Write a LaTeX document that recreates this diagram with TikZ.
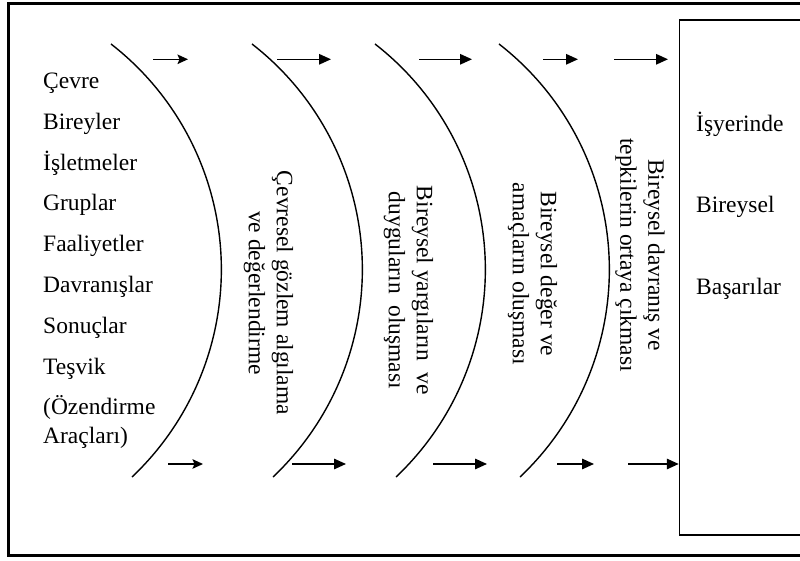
\documentclass[tikz,border=0pt]{standalone}
\usepackage{fontspec}
\setmainfont{Liberation Serif}
\usetikzlibrary{arrows.meta}
\tikzset{
  txt/.style={inner sep=0pt, font=\fontsize{23.5pt}{28pt}\selectfont},
  rot/.style={txt, rotate=-90, align=center, anchor=center},
  curve/.style={line width=1.4pt},
  arr/.style={line width=1.5pt, -{Triangle[length=12pt,width=10.5pt]}},
  arrsmall/.style={line width=1.5pt, -{Stealth[length=10.5pt,width=9.5pt,inset=2pt]}},
}
\begin{document}
\begin{tikzpicture}[x=1pt,y=1pt]
\useasboundingbox (0,0) rectangle (800,561);
\clip (0,0) rectangle (800,561);
% outer frame
\draw[line width=3pt] (8.5,557) rectangle (830,5);
% result box
\node[draw, line width=1.5pt, minimum width=150pt, minimum height=515pt, inner sep=0pt] (box) at (754.5,283.5) {};
% arcs
\foreach \dx in {0,141,264,388}{
  \draw[curve] (111+\dx,517) arc[start angle=52.15, end angle=-46.6, radius=285.6];
}
% left list
\node[txt, anchor=base west] (l1) at (43,472.5) {Çevre};
\node[txt, anchor=base west] (l2) at (43,431.7) {Bireyler};
\node[txt, anchor=base west] (l3) at (43,390.9) {İşletmeler};
\node[txt, anchor=base west] (l4) at (43,350.1) {Gruplar};
\node[txt, anchor=base west] (l5) at (43,309.3) {Faaliyetler};
\node[txt, anchor=base west] (l6) at (43,268.5) {Davranışlar};
\node[txt, anchor=base west] (l7) at (43,227.7) {Sonuçlar};
\node[txt, anchor=base west] (l8) at (43,186.9) {Teşvik};
\node[txt, anchor=base west] (l9) at (43,146.5) {(Özendirme};
\node[txt, anchor=base west] (l10) at (43,117.5) {Araçları)};
% rotated stage labels
\node[rot] (s1) at (268.5,268) {Çevresel gözlem algılama\\ve değerlendirme};
\node[rot] (s2) at (408.5,270.5) {Bireysel yargıların~ ve\\duyguların~ oluşması};
\node[rot] (s3) at (532.5,287) {Bireysel değer ve\\amaçların oluşması};
\node[rot] (s4) at (640,306) {Bireysel davranış ve\\tepkilerin ortaya çıkması};
% box texts
\node[txt, anchor=base west] (r1) at (696,429) {İşyerinde};
\node[txt, anchor=base west] (r2) at (696,348) {Bireysel};
\node[txt, anchor=base west] (r3) at (696,266) {Başarılar};
% arrow coordinates
\coordinate (t1s) at (153,501.7); \coordinate (t1e) at (188,501.7);
\coordinate (t2s) at (277,501.7); \coordinate (t2e) at (331,501.7);
\coordinate (t3s) at (419,501.7); \coordinate (t3e) at (472,501.7);
\coordinate (t4s) at (543,501.7); \coordinate (t4e) at (578,501.7);
\coordinate (t5s) at (614,501.7); \coordinate (t5e) at (668,501.7);
\coordinate (b1s) at (168,97); \coordinate (b1e) at (203,97);
\coordinate (b2s) at (292,97); \coordinate (b2e) at (346,97);
\coordinate (b3s) at (433,97); \coordinate (b3e) at (487,97);
\coordinate (b4s) at (557,97); \coordinate (b4e) at (594,97);
\coordinate (b5s) at (628,97);
\draw[arrsmall] (t1s) -- (t1e);
\draw[arr] (t2s) -- (t2e);
\draw[arr] (t3s) -- (t3e);
\draw[arr] (t4s) -- (t4e);
\draw[arr] (t5s) -- (t5e);
\draw[arrsmall] (b1s) -- (b1e);
\draw[arr] (b2s) -- (b2e);
\draw[arr] (b3s) -- (b3e);
\draw[arr] (b4s) -- (b4e);
\draw[arr] (b5s) -- (b5s -| box.west);
\end{tikzpicture}
\end{document}
